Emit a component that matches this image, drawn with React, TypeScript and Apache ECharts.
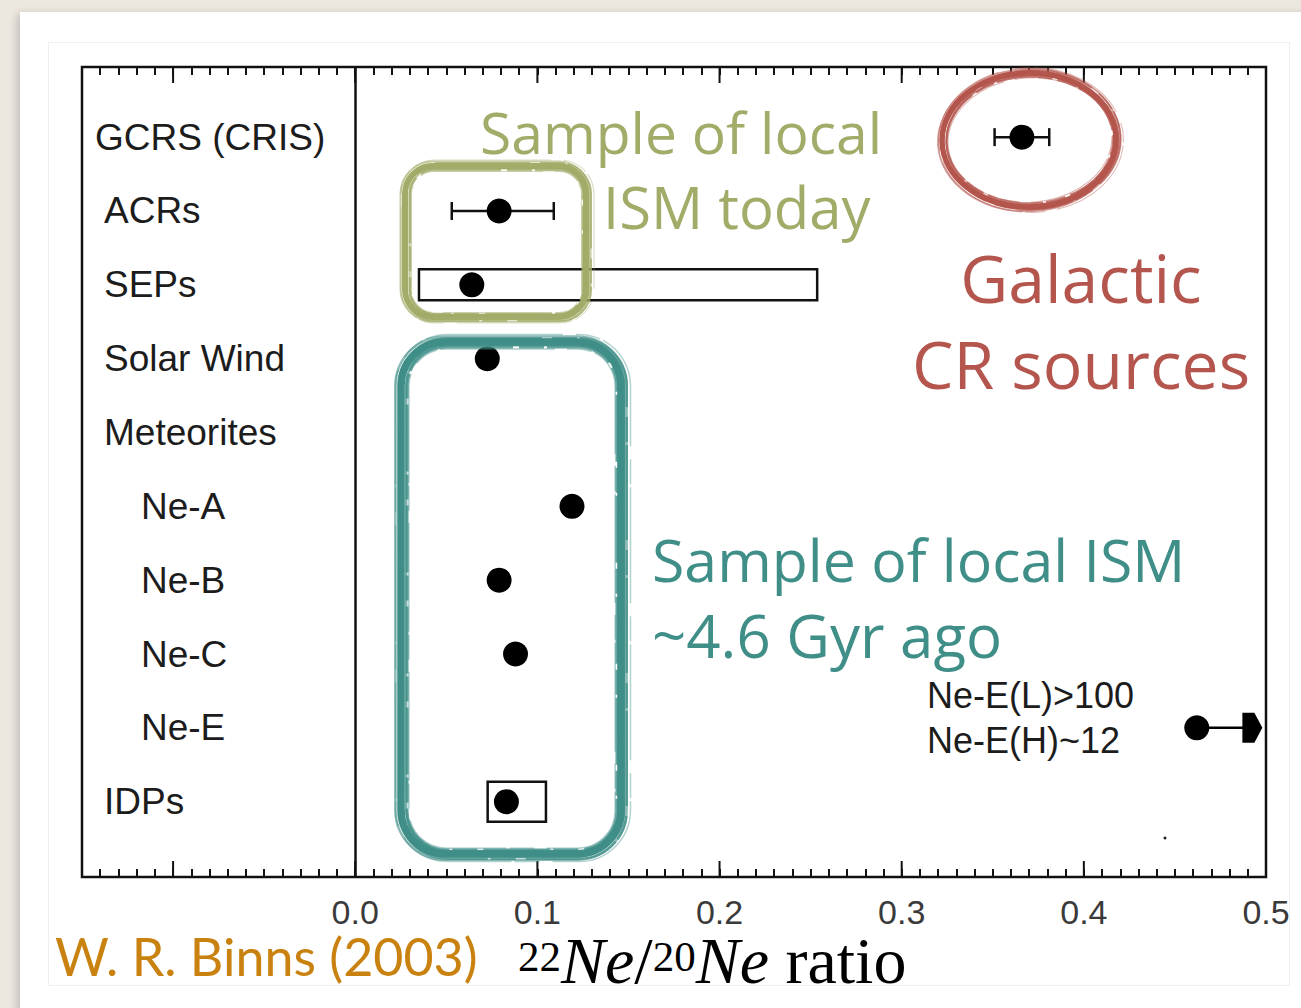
import React, { useEffect, useRef } from 'react';
import * as echarts from 'echarts';

// 22Ne/20Ne ratio for cosmic-ray, solar-system and meteoritic neon samples
const rowNames = ['GCRS (CRIS)', 'ACRs', 'SEPs', 'Solar Wind', 'Meteorites', 'Ne-A', 'Ne-B', 'Ne-C', 'Ne-E', 'IDPs'];
// neon components listed under "Meteorites"
const meteoriteComponents = ['Ne-A', 'Ne-B', 'Ne-C', 'Ne-E'];
const ratio = [0.366, 0.079, 0.064, 0.0725, null, 0.119, 0.079, 0.088, 0.462, 0.083];
const errLow = [0.351, 0.053, null, null, null, null, null, null, null, null];
const errHigh = [0.381, 0.109, null, null, null, null, null, null, null, null];
const rangeLow = [null, null, 0.035, null, null, null, null, null, null, 0.0727];
const rangeHigh = [null, null, 0.2536, null, null, null, null, null, null, 0.1047];
// Ne-E is a lower limit: the arrow runs off the right edge
const limitTo = [null, null, null, null, null, null, null, null, 0.498, null];
const majorTicks = [-0.1, 0, 0.1, 0.2, 0.3, 0.4];
const neENotes = ['Ne-E(L)>100', 'Ne-E(H)~12'];

const X_MIN = -0.15;
const X_MAX = 0.5;

const OLIVE = '#a3ab69';
const TEAL = '#3f8e87';
const BRICK = '#b4564d';
const HAND = '"Open Sans", "Noto Sans", sans-serif';

// brush strokes: [offset, width, opacity, dashed]
const strokes: [number, number, number, boolean][] = [
  [0, 6, 1, false],
  [-4, 2.5, 0.8, true],
  [-2.5, 2, 0.7, false],
  [-1, 3, 0.9, true],
  [1.5, 2.5, 0.85, false],
  [3, 2, 0.75, true],
  [4.5, 2, 0.6, false],
  [-5.5, 1.2, 0.45, true],
  [6, 1.2, 0.4, true],
];

function sketchRect(x: number, y: number, w: number, h: number, r: number, color: string, scale: number) {
  return {
    type: 'group',
    z: 100,
    children: strokes.map(([d0, lw, op, dashed], i) => {
      const d = d0 * scale;
      return {
        type: 'rect',
        z: 100,
        shape: { x: x - d + (i % 3) - 1, y: y - d, width: w + 2 * d, height: h + 2 * d + (i % 2), r: Math.max(4, r + d) },
        style: {
          fill: 'none',
          stroke: color,
          lineWidth: lw * scale,
          opacity: op,
          lineDash: dashed ? [60 + i * 7, 5 + i, 25, 3] : null,
        },
      };
    }),
  };
}

function sketchEllipse(cx: number, cy: number, rx: number, ry: number, color: string, scale: number) {
  return {
    type: 'group',
    z: 100,
    children: strokes.map(([d0, lw, op, dashed], i) => {
      const d = d0 * scale;
      return {
        type: 'ellipse',
        z: 100,
        x: cx + (i % 3) - 1,
        y: cy,
        rotation: (i % 4 - 1.5) * 0.02 + 0.04,
        shape: { cx: 0, cy: 0, rx: rx + d, ry: ry + d },
        style: {
          fill: 'none',
          stroke: color,
          lineWidth: lw * scale,
          opacity: op,
          lineDash: dashed ? [50 + i * 6, 4 + i, 20, 3] : null,
        },
      };
    }),
  };
}

function handText(text: string, x: number, y: number, size: number, color: string, align = 'left') {
  return {
    type: 'text',
    z: 101,
    x,
    y,
    style: {
      text,
      font: `${size}px ${HAND}`,
      fill: color,
      textAlign: align,
      textVerticalAlign: 'middle',
    },
  };
}

export default function App() {
  const ref = useRef<HTMLDivElement>(null);

  useEffect(() => {
    if (!ref.current) return;
    const chart = echarts.init(ref.current, undefined, { renderer: 'svg' });

    const dots = ratio
      .map((v, i) => (v == null ? null : [v, i]))
      .filter((d) => d !== null) as number[][];
    const errData = rowNames
      .map((_, i) => (errLow[i] == null ? null : [errLow[i], errHigh[i], i]))
      .filter((d) => d !== null) as number[][];
    const rangeData = rowNames
      .map((_, i) => (rangeLow[i] == null ? null : [rangeLow[i], rangeHigh[i], i]))
      .filter((d) => d !== null) as number[][];
    const limitData = rowNames
      .map((_, i) => (limitTo[i] == null ? null : [ratio[i] as number, limitTo[i], i]))
      .filter((d) => d !== null) as number[][];

    const tickFmt = (v: number) => {
      const r = Math.round(v * 100);
      return r >= 0 && r % 10 === 0 ? (r / 100).toFixed(1) : '';
    };

    const axisCommon = {
      type: 'value',
      min: X_MIN,
      max: X_MAX,
      interval: 0.01,
      axisLine: { show: false, onZero: false },
      splitLine: { show: false },
      axisTick: { show: true, inside: true, length: 8, lineStyle: { color: '#111', width: 2 } },
    };

    chart.setOption({
      animation: false,
      backgroundColor: 'transparent',
      grid: {
        left: 82,
        top: 67,
        width: 1184,
        height: 810,
        show: true,
        borderColor: '#111',
        borderWidth: 2.5,
        backgroundColor: 'transparent',
      },
      xAxis: [
        {
          ...axisCommon,
          position: 'bottom',
          axisLabel: {
            show: true,
            margin: 20,
            lineHeight: 30,
            formatter: tickFmt,
            color: '#3a3a3a',
            fontSize: 34,
            fontFamily: '"Liberation Sans", Arial, sans-serif',
          },
        },
        {
          ...axisCommon,
          position: 'top',
          axisLabel: { show: false },
        },
      ],
      yAxis: {
        type: 'value',
        inverse: true,
        min: -0.95,
        max: 10.02,
        show: false,
      },
      series: [
        {
          // row labels inside the frame
          type: 'custom',
          silent: true,
          data: rowNames.map((_, i) => [X_MIN, i]),
          renderItem: (params: any, api: any) => {
            const name = rowNames[params.dataIndex];
            const cs = params.coordSys;
            const p = api.coord([X_MIN, api.value(1)]);
            const indent = meteoriteComponents.includes(name) ? 59 : name === 'GCRS (CRIS)' ? 13 : 22;
            return {
              type: 'text',
              x: cs.x + indent,
              y: p[1],
              style: {
                text: name,
                font: '37px "Liberation Sans", Arial, sans-serif',
                fill: '#1c1c1c',
                textAlign: 'left',
                textVerticalAlign: 'middle',
              },
            };
          },
        },
        {
          // long ticks every 0.1 on top and bottom edges
          type: 'custom',
          silent: true,
          data: majorTicks.map((v) => [v, 0]),
          renderItem: (params: any, api: any) => {
            const cs = params.coordSys;
            const x = api.coord([api.value(0), 0])[0];
            const st = { stroke: '#111', lineWidth: 2 };
            return {
              type: 'group',
              children: [
                { type: 'line', shape: { x1: x, y1: cs.y, x2: x, y2: cs.y + 16 }, style: st },
                { type: 'line', shape: { x1: x, y1: cs.y + cs.height, x2: x, y2: cs.y + cs.height - 16 }, style: st },
              ],
            };
          },
        },
        {
          // measured ranges drawn as open boxes
          type: 'custom',
          silent: true,
          data: rangeData,
          encode: { x: [0, 1], y: 2 },
          renderItem: (params: any, api: any) => {
            const row = api.value(2);
            const a = api.coord([api.value(0), row]);
            const b = api.coord([api.value(1), row]);
            const half = rowNames[row] === 'IDPs' ? 20 : 15.5;
            return {
              type: 'rect',
              shape: { x: a[0], y: a[1] - half, width: b[0] - a[0], height: half * 2 },
              style: { fill: '#fff', stroke: '#111', lineWidth: 2.5 },
            };
          },
        },
        {
          // error bars with end caps
          type: 'custom',
          silent: true,
          data: errData,
          encode: { x: [0, 1], y: 2 },
          renderItem: (params: any, api: any) => {
            const row = api.value(2);
            const a = api.coord([api.value(0), row]);
            const b = api.coord([api.value(1), row]);
            const st = { stroke: '#111', lineWidth: 2.5 };
            return {
              type: 'group',
              children: [
                { type: 'line', shape: { x1: a[0], y1: a[1], x2: b[0], y2: b[1] }, style: st },
                { type: 'line', shape: { x1: a[0], y1: a[1] - 9, x2: a[0], y2: a[1] + 9 }, style: st },
                { type: 'line', shape: { x1: b[0], y1: b[1] - 9, x2: b[0], y2: b[1] + 9 }, style: st },
              ],
            };
          },
        },
        {
          // lower-limit arrow
          type: 'custom',
          silent: true,
          data: limitData,
          encode: { x: [0, 1], y: 2 },
          renderItem: (params: any, api: any) => {
            const row = api.value(2);
            const a = api.coord([api.value(0), row]);
            const b = api.coord([api.value(1), row]);
            return {
              type: 'group',
              children: [
                { type: 'line', shape: { x1: a[0], y1: a[1], x2: b[0] - 16, y2: b[1] }, style: { stroke: '#000', lineWidth: 2.5 } },
                {
                  type: 'polygon',
                  shape: {
                    points: [
                      [b[0], b[1]],
                      [b[0] - 8, b[1] - 15],
                      [b[0] - 20, b[1] - 15],
                      [b[0] - 20, b[1] + 15],
                      [b[0] - 8, b[1] + 15],
                    ],
                  },
                  style: { fill: '#000' },
                },
              ],
            };
          },
        },
        {
          type: 'scatter',
          silent: true,
          symbol: 'circle',
          symbolSize: 25,
          itemStyle: { color: '#000', opacity: 1 },
          data: dots,
          z: 5,
          markLine: {
            silent: true,
            symbol: 'none',
            label: { show: false },
            lineStyle: { color: '#111', width: 2.5, type: 'solid', opacity: 1 },
            data: [{ xAxis: 0 }],
          },
        },
      ],
      graphic: [
        // notes next to the Ne-E point
        ...neENotes.map((t, i) => ({
          type: 'text',
          z: 50,
          x: 927,
          y: 695 + i * 45,
          style: {
            text: t,
            font: '36px "Liberation Sans", Arial, sans-serif',
            fill: '#1c1c1c',
            textAlign: 'left',
            textVerticalAlign: 'middle',
          },
        })),
        { type: 'circle', z: 50, shape: { cx: 1165, cy: 838, r: 1.5 }, style: { fill: '#222' } },
        // hand-drawn highlights
        sketchRect(406, 166, 181, 151, 28, OLIVE, 1),
        sketchRect(402, 342, 220, 512, 44, TEAL, 1.25),
        sketchEllipse(1030, 140, 87, 67, BRICK, 0.9),
        handText('Sample of local', 480, 132, 57, OLIVE),
        handText('ISM today', 603, 206, 58, OLIVE),
        handText('Galactic', 1081, 277, 66, BRICK, 'center'),
        handText('CR sources', 1081, 363, 66, BRICK, 'center'),
        handText('Sample of local ISM', 652, 559, 59, TEAL),
        handText('~4.6 Gyr ago', 652, 635, 60, TEAL),
        // citation
        {
          type: 'text',
          z: 101,
          x: 55,
          y: 956,
          style: {
            text: 'W. R. Binns (2003)',
            font: '52px Lato, "Open Sans", sans-serif',
            lineHeight: 42,
            fill: '#c9820f',
            textAlign: 'left',
            textVerticalAlign: 'middle',
          },
        },
        // axis title with isotope superscripts
        {
          type: 'text',
          z: 101,
          x: 518,
          y: 935,
          style: {
            text: '{s|22}{n|Ne}{r|/}{s|20}{n|Ne}{r| ratio}',
            fill: '#000',
            font: '66px "Liberation Serif", "Times New Roman", serif',
            textAlign: 'left',
            textVerticalAlign: 'top',
            rich: {
              s: { fontSize: 43, lineHeight: 36, verticalAlign: 'top', fontFamily: '"Liberation Serif", serif', fill: '#000' },
              n: { fontSize: 66, lineHeight: 58, verticalAlign: 'bottom', fontStyle: 'italic', fontFamily: '"Liberation Serif", serif', fill: '#000' },
              r: { fontSize: 66, lineHeight: 58, verticalAlign: 'bottom', fontFamily: '"Liberation Serif", serif', fill: '#000' },
            },
          },
        },
      ],
    });

    return () => chart.dispose();
  }, []);

  return (
    <div style={{ position: 'absolute', left: 0, top: 0, width: 1301, height: 1008, background: '#ece8e0', overflow: 'hidden' }}>
      <div
        style={{
          position: 'absolute',
          left: 20,
          top: 12,
          width: 1290,
          height: 1010,
          background: '#fff',
          boxShadow: '-3px 2px 8px rgba(0,0,0,0.18)',
        }}
      />
      <div
        style={{
          position: 'absolute',
          left: 48,
          top: 42,
          width: 1240,
          height: 942,
          border: '1px solid #efefef',
        }}
      />
      <div ref={ref} style={{ position: 'absolute', left: 0, top: 0, width: 1301, height: 1008 }} />
    </div>
  );
}
